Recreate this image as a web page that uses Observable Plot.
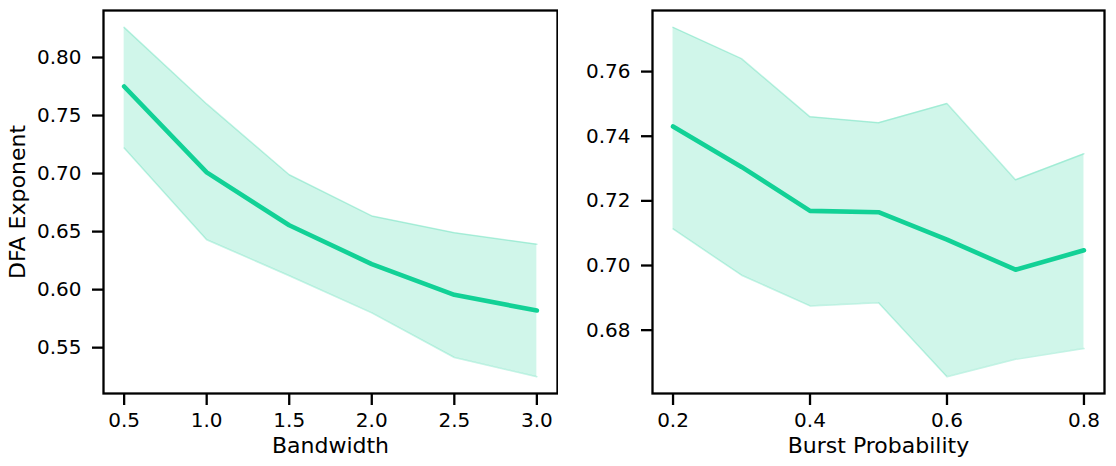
<!DOCTYPE html>
<html>
<head>
<meta charset="utf-8">
<script src="https://cdn.jsdelivr.net/npm/d3@7"></script>
<script src="https://cdn.jsdelivr.net/npm/@observablehq/plot@0.6"></script>
<style>
  html, body { margin: 0; padding: 0; background: #fff; }
  #wrap { display: flex; width: 1116px; height: 466px; }
  svg { font-family: "DejaVu Sans", sans-serif; }
  svg g[aria-label$="axis label"] text { font-size: 22px; }
</style>
</head>
<body>
<div id="wrap"></div>
<script>
// Left panel: DFA exponent vs bandwidth
const bandwidth = [0.5, 1.0, 1.5, 2.0, 2.5, 3.0];
const bwMean = [0.775, 0.701, 0.6555, 0.622, 0.5955, 0.582];
const bwUpper = [0.826, 0.760, 0.699, 0.6635, 0.649, 0.639];
const bwLower = [0.722, 0.643, 0.612, 0.580, 0.5415, 0.525];
const bwTicksX = [0.5, 1.0, 1.5, 2.0, 2.5, 3.0];
const bwTicksY = [0.55, 0.60, 0.65, 0.70, 0.75, 0.80];

// Right panel: DFA exponent vs burst probability
const burstProb = [0.2, 0.3, 0.4, 0.5, 0.6, 0.7, 0.8];
const bpMean = [0.743, 0.7305, 0.7169, 0.7165, 0.708, 0.6987, 0.7047];
const bpUpper = [0.7737, 0.764, 0.746, 0.7442, 0.7501, 0.7265, 0.7346];
const bpLower = [0.7113, 0.6970, 0.6875, 0.6885, 0.6656, 0.6710, 0.6743];
const bpTicksX = [0.2, 0.4, 0.6, 0.8];
const bpTicksY = [0.68, 0.70, 0.72, 0.74, 0.76];

const color = "#12d196";

function panel({xs, mean, upper, lower, xDomain, yDomain, xTicks, yTicks, xFmt, yFmt, xLabel, yLabel, marginLeft, marginRight}) {
  const data = xs.map((x, i) => ({x, m: mean[i], hi: upper[i], lo: lower[i]}));
  const marks = [
    Plot.areaY(data, {x: "x", y1: "lo", y2: "hi", fill: color, fillOpacity: 0.2}),
    Plot.line(data, {x: "x", y: "hi", stroke: color, strokeOpacity: 0.25, strokeWidth: 1.5}),
    Plot.line(data, {x: "x", y: "lo", stroke: color, strokeOpacity: 0.25, strokeWidth: 1.5}),
    Plot.line(data, {x: "x", y: "m", stroke: color, strokeWidth: 4.6}),
    Plot.axisX(xTicks, {tickSize: 12, tickPadding: 7, tickFormat: d3.format(xFmt), fontSize: 20, strokeWidth: 2.3, fill: "#000",
      label: xLabel, labelArrow: "none", labelAnchor: "center", labelOffset: 59}),
    Plot.axisY(yTicks, {tickSize: 11, tickPadding: 11, tickFormat: d3.format(yFmt), fontSize: 20, strokeWidth: 2.3, fill: "#000",
      label: yLabel, labelArrow: "none", labelAnchor: "center", labelOffset: 94}),
    Plot.frame({stroke: "#000", strokeWidth: 2.3})
  ];
  return Plot.plot({
    width: 558,
    height: 466,
    marginLeft, marginRight,
    marginTop: 10,
    marginBottom: 73,
    x: {domain: xDomain, labelArrow: "none"},
    y: {domain: yDomain, labelArrow: "none"},
    style: {fontFamily: "DejaVu Sans, sans-serif", color: "#000", background: "#fff"},
    marks
  });
}

const wrap = document.getElementById("wrap");
wrap.append(panel({
  xs: bandwidth, mean: bwMean, upper: bwUpper, lower: bwLower,
  xDomain: [0.375, 3.125], yDomain: [0.5105, 0.8405],
  xTicks: bwTicksX, yTicks: bwTicksY, xFmt: ".1f", yFmt: ".2f",
  xLabel: "Bandwidth", yLabel: "DFA Exponent",
  marginLeft: 103, marginRight: 1
}));
wrap.append(panel({
  xs: burstProb, mean: bpMean, upper: bpUpper, lower: bpLower,
  xDomain: [0.17, 0.83], yDomain: [0.6604, 0.7789],
  xTicks: bpTicksX, yTicks: bpTicksY, xFmt: ".1f", yFmt: ".2f",
  xLabel: "Burst Probability", yLabel: null,
  marginLeft: 94, marginRight: 12
}));
</script>
</body>
</html>
